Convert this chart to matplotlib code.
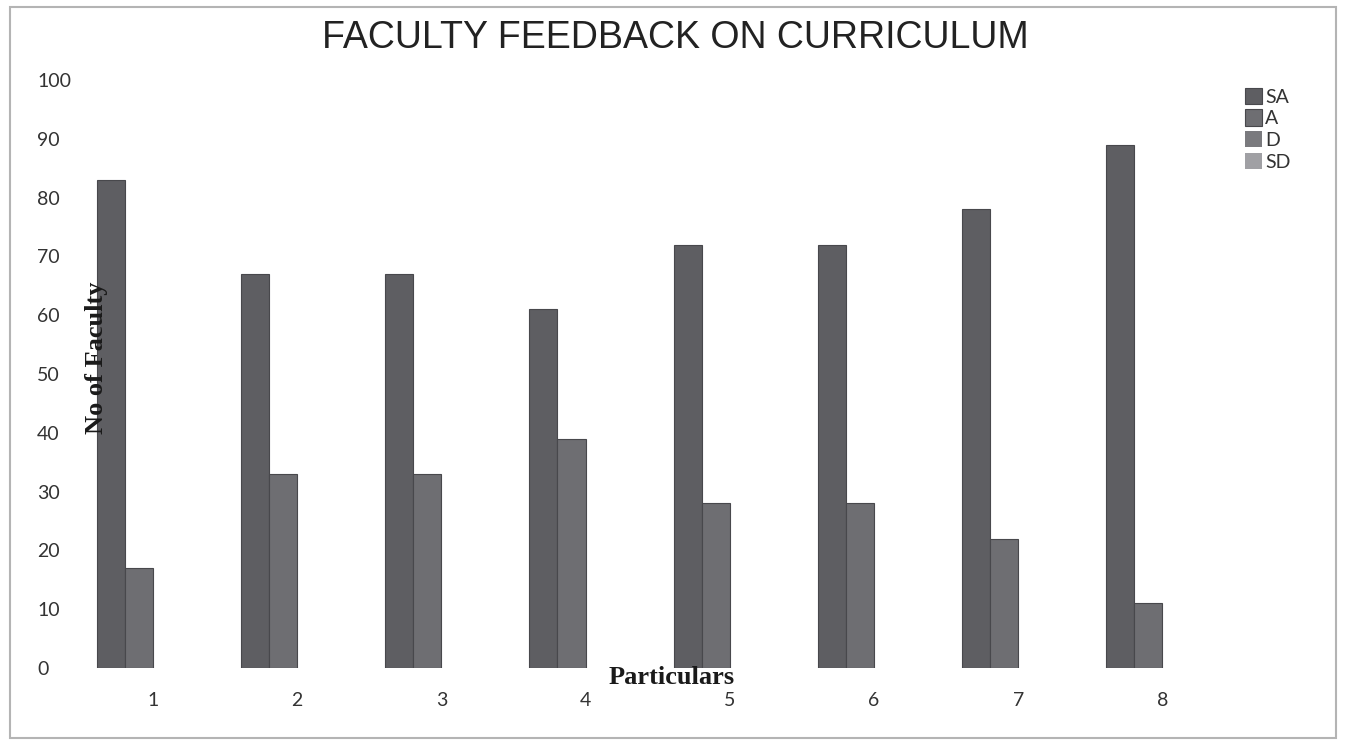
import matplotlib
matplotlib.use("Agg")
import matplotlib.pyplot as plt
import numpy as np
from matplotlib.patches import Rectangle

# data
particulars = ['1', '2', '3', '4', '5', '6', '7', '8']
series = ['SA', 'A', 'D', 'SD']
sa = [83, 67, 67, 61, 72, 72, 78, 89]
a = [17, 33, 33, 39, 28, 28, 22, 11]
d = [0, 0, 0, 0, 0, 0, 0, 0]
sd = [0, 0, 0, 0, 0, 0, 0, 0]
colors = ['#5e5e62', '#6e6e72', '#7a7a7e', '#a0a0a4']

W, H = 1346, 740
fig = plt.figure(figsize=(W / 100, H / 100), dpi=100)

# axes placed in pixel terms: y=0 at 668px, y=100 at 80px
left_px, right_px = 85, 1230
ax = fig.add_axes([left_px / W, 1 - 668 / H, (right_px - left_px) / W, (668 - 80) / H])

x = np.arange(1, len(particulars) + 1)
width = 0.195
step = 144.2
for i, (name, vals) in enumerate(zip(series, [sa, a, d, sd])):
    lw = [0.8 if v > 0 else 0 for v in vals]
    ax.bar(x + (i - 1.5) * width, vals, width, color=colors[i],
           edgecolor='#48484c', linewidth=lw, label=name)

ax.set_xlim(1 - (153 - left_px) / step, 1 + (right_px - 153) / step)
ax.set_ylim(0, 100)
ax.set_yticks(range(0, 101, 10))
ax.set_xticks(x)
ax.set_xticklabels(particulars)
for s in ax.spines.values():
    s.set_visible(False)
ax.tick_params(axis='both', length=0, labelsize=14, labelcolor='#333333')
ax.tick_params(axis='x', pad=17.5)
ax.tick_params(axis='y', pad=34.5)
for lab in ax.get_yticklabels():
    lab.set_horizontalalignment('left')
for lab in ax.get_xticklabels() + ax.get_yticklabels():
    lab.set_fontfamily('Lato')

fig.text(675 / W, 1 - 38 / H, 'FACULTY FEEDBACK ON CURRICULUM', ha='center', va='center',
         fontsize=27, family='Liberation Sans', color='#222222')
fig.text(97 / W, 1 - 358 / H, 'No of Faculty', rotation=90, ha='center', va='center',
         fontsize=19, family='Liberation Serif', fontweight='bold', color='#1a1a1a')
fig.text(672 / W, 1 - 678 / H, 'Particulars', ha='center', va='center',
         fontsize=19, family='Liberation Serif', fontweight='bold', color='#1a1a1a')

leg = fig.legend(loc='upper left', bbox_to_anchor=(1237 / W, 1 - 80 / H), frameon=False,
                 handlelength=0.9, handleheight=0.9, handletextpad=0.15, labelspacing=0.2,
                 borderaxespad=0, prop={'family': 'Lato', 'size': 14})
for t in leg.get_texts():
    t.set_color('#333333')

fig.patches.append(Rectangle((10 / W, 2 / H), 1326 / W, 731 / H, transform=fig.transFigure,
                             fill=False, edgecolor='#b4b4b4', linewidth=1.5))

fig.savefig('out.png', dpi=100)
